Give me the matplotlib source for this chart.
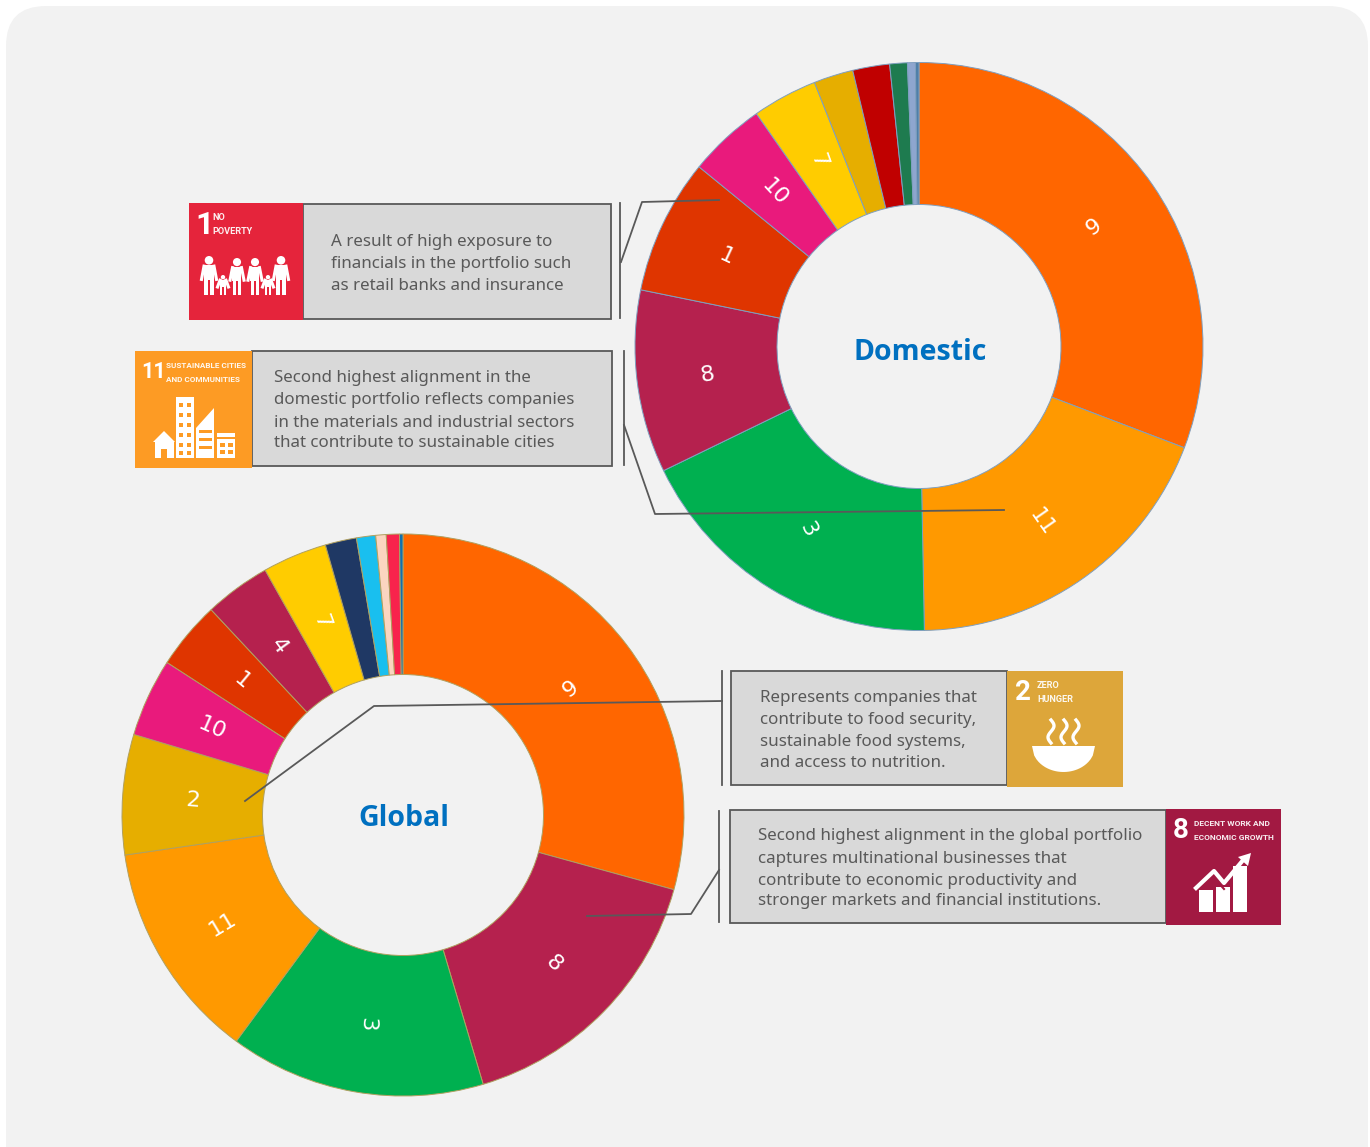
import matplotlib
matplotlib.use('Agg')
import matplotlib.pyplot as plt
from matplotlib.patches import FancyBboxPatch, Rectangle, Circle, Polygon
import numpy as np

W, H = 1370, 1147

# share of each portfolio per SDG, clockwise from the top (percent)
dom_labels = ['9', '11', '3', '8', '1', '10', '7', '', '', '', '', '']
dom_values = [30.8, 18.9, 18.1, 10.4, 7.7, 4.4, 3.7, 2.25, 2.1, 1.0, 0.45, 0.2]
dom_colors = ['#FF6600', '#FF9900', '#00B050', '#B5214E', '#DF3500', '#E91A7C',
              '#FFCC00', '#E6AE00', '#C00000', '#1E7B4F', '#8EA6CF', '#4F7FA8']

glo_labels = ['9', '8', '3', '11', '2', '10', '1', '4', '7', '', '', '', '', '']
glo_values = [29.25, 16.1, 14.7, 12.6, 6.9, 4.5, 3.9, 3.8, 3.7, 1.8, 1.1, 0.6, 0.75, 0.2]
glo_colors = ['#FF6600', '#B5214E', '#00B050', '#FF9900', '#E6AE00', '#E91A7C',
              '#DF3500', '#B5214E', '#FFCC00', '#1F3864', '#19BFEF', '#FBD5C0',
              '#F8234C', '#0F70B0']

GREY = '#595959'
BG = '#F2F2F2'

plt.rcParams['font.family'] = ['Noto Sans', 'DejaVu Sans']

fig = plt.figure(figsize=(W / 100, H / 100), dpi=100)
ax = fig.add_axes([0, 0, 1, 1])


def Y(py):
    return H - py


def donut(values, colors, labels, cx, cy, R, edge, rots):
    wedges, _ = ax.pie(values, colors=colors, startangle=90, counterclock=False,
                       center=(cx, Y(cy)), radius=R,
                       wedgeprops=dict(width=R / 2, edgecolor=edge, linewidth=0.7))
    for w, lab, rot in zip(wedges, labels, rots):
        if lab == '':
            continue
        a = np.radians((w.theta1 + w.theta2) / 2)
        ax.text(cx + 0.75 * R * np.cos(a), Y(cy + 1.5) + 0.75 * R * np.sin(a), lab,
                color='white', fontsize=16, family='DejaVu Sans', rotation=rot,
                rotation_mode='anchor', ha='center', va='center')


def callout(x0, x1, y0, y1, lines, tx, ys, bx, b0, b1, leader):
    ax.add_patch(Rectangle((x0, Y(y1)), x1 - x0, y1 - y0, fc='#D9D9D9', ec=GREY, lw=1.3))
    for s, yy in zip(lines, ys):
        ax.text(tx, Y(yy + 1), s, color=GREY, fontsize=12.2, ha='left', va='center')
    ax.plot([bx, bx], [Y(b0), Y(b1)], color=GREY, lw=1.3)
    ax.plot([p[0] for p in leader], [Y(p[1]) for p in leader], color=GREY, lw=1.3)


def tile(x0, x1, y0, y1, color, num, title, nx, ny, tx, tys, nsize, tsize):
    ax.add_patch(Rectangle((x0, Y(y1)), x1 - x0, y1 - y0, fc=color, ec='none', zorder=3))
    ax.text(nx, Y(ny), num, color='white', fontsize=nsize, fontweight='bold',
            family='Roboto', ha='left', va='center', zorder=4)
    for s, yy in zip(title, tys):
        ax.text(tx, Y(yy), s, color='white', fontsize=tsize, fontweight='bold',
                family='Roboto', ha='left', va='center', alpha=0.92, zorder=4)


def box(x0, y0, x1, y1, c='white'):
    ax.add_patch(Rectangle((x0, Y(y1)), x1 - x0, y1 - y0, fc=c, ec='none', zorder=5))


def person(cx, top, h, w):
    ax.add_patch(Circle((cx, Y(top + h * 0.11)), h * 0.11, fc='white', ec='none', zorder=5))
    box(cx - w / 2, top + h * 0.24, cx + w / 2, top + h * 0.62)
    box(cx - w / 2 + 0.3, top + h * 0.62, cx - 0.6, top + h)
    box(cx + 0.6, top + h * 0.62, cx + w / 2 - 0.3, top + h)
    # arms
    ax.plot([cx - w / 2, cx - w / 2 - 2.5], [Y(top + h * 0.26), Y(top + h * 0.6)],
            color='white', lw=2.2, zorder=5)
    ax.plot([cx + w / 2, cx + w / 2 + 2.5], [Y(top + h * 0.26), Y(top + h * 0.6)],
            color='white', lw=2.2, zorder=5)


# page background
ax.add_patch(FancyBboxPatch((6, -60), 1362, H - 6 + 60, boxstyle='round,pad=0,rounding_size=40',
                            fc=BG, ec='none', zorder=0))

dom_rots = [35, -55, -62, 10, -25, -47, -70, 0, 0, 0, 0, 0]
glo_rots = [37, -44, -92, 31, -4, -24, -40, -54, -70, 0, 0, 0, 0, 0]
donut(dom_values, dom_colors, dom_labels, 919, 346.5, 284, '#7F9FBF', dom_rots)
donut(glo_values, glo_colors, glo_labels, 403, 815, 281, '#B0A060', glo_rots)

ax.text(920, Y(352), 'Domestic', color='#0070C0', fontsize=20.5, fontweight='bold',
        family='Open Sans', ha='center', va='center')
ax.text(404, Y(818), 'Global', color='#0070C0', fontsize=20.5, fontweight='bold',
        family='Open Sans', ha='center', va='center')

# callouts
callout(303, 611, 204, 319,
        ['A result of high exposure to', 'financials in the portfolio such',
         'as retail banks and insurance'],
        331, [241, 263, 285], 620.5, 203, 318, [(621, 262), (642, 202), (719, 200)])
callout(252, 612, 351, 466,
        ['Second highest alignment in the', 'domestic portfolio reflects companies',
         'in the materials and industrial sectors', 'that contribute to sustainable cities'],
        274, [377, 399, 422, 442], 624, 351, 465, [(624, 425), (655, 514), (1004, 510)])
callout(731, 1007, 671, 785,
        ['Represents companies that', 'contribute to food security,',
         'sustainable food systems,', 'and access to nutrition.'],
        760, [697, 719, 741, 762], 722, 671, 785, [(722, 701), (374, 706), (245, 801)])
callout(730, 1166, 810, 923,
        ['Second highest alignment in the global portfolio', 'captures multinational businesses that',
         'contribute to economic productivity and', 'stronger markets and financial institutions.'],
        758, [835, 858, 880, 900], 719, 811, 922, [(719, 870), (691, 914), (587, 916)])

# SDG tiles
tile(189, 303, 203, 320, '#E5243B', '1', ['NO', 'POVERTY'], 195, 225, 212, [218, 232], 23, 6.6)
for cx, top, h, w in [(209, 256, 39, 10), (237, 258, 37, 9), (255, 258, 37, 9), (281, 256, 39, 10)]:
    person(cx, top, h, w)
for cx in [223, 268]:
    person(cx, 275, 20, 6)

tile(135, 252, 351, 468, '#FD9B24', '11', ['SUSTAINABLE CITIES', 'AND COMMUNITIES'], 141, 372, 166,
     [366, 380], 15.5, 5.9)
ax.add_patch(Polygon([(153, Y(442)), (164, Y(431)), (175, Y(442))], fc='white', ec='none', zorder=5))
box(155, 442, 174, 458)
box(161, 449, 167, 458, '#FD9B24')
box(176, 397, 194, 458)
for yy in [403, 413, 423, 433, 443, 451]:
    for xx in [179, 187]:
        box(xx, yy, xx + 4, yy + 4, '#FD9B24')
ax.add_patch(Polygon([(196, Y(458)), (196, Y(428)), (214, Y(408)), (214, Y(458))], fc='white',
                     ec='none', zorder=5))
for yy in [430, 438, 446]:
    box(199, yy, 212, yy + 3, '#FD9B24')
box(217, 433, 235, 458)
box(217, 437, 235, 439, '#FD9B24')
box(220, 443, 225, 447, '#FD9B24')
box(228, 443, 233, 447, '#FD9B24')
box(220, 450, 225, 454, '#FD9B24')
box(228, 450, 233, 454, '#FD9B24')

tile(1007, 1123, 671, 787, '#DDA63A', '2', ['ZERO', 'HUNGER'], 1015, 693, 1037, [686, 700], 20, 6.6)
bt = np.linspace(0, 1, 30)
bowl_x = 1032 + 63 * bt
bowl_y = 746 + 26 * np.sqrt(np.clip(1 - (2 * bt - 1) ** 2, 0, 1))
ax.add_patch(Polygon(np.c_[bowl_x, Y(bowl_y)], fc='white', ec='none', zorder=5))
st = np.linspace(0, 1, 30)
for sx in [1051, 1064, 1076]:
    ax.plot(sx + 3 * np.sin(st * 2 * np.pi), Y(720 + 23 * st), color='white', lw=2.4, zorder=5)

tile(1166, 1281, 809, 925, '#A21942', '8', ['DECENT WORK AND', 'ECONOMIC GROWTH'], 1173, 830, 1194,
     [824, 838], 20, 6.0)
for x0, top in [(1199, 890), (1216, 887), (1233, 866)]:
    box(x0, top, x0 + 14, 912)
ax.plot([1196, 1214, 1224, 1244], [Y(888), Y(871), Y(883), Y(859)], color='white', lw=3, zorder=6)
ax.plot([1214, 1224], [Y(878), Y(889)], color='#A21942', lw=1.5, zorder=5.5)
ax.add_patch(Polygon([(1251, Y(853)), (1238, Y(857)), (1248, Y(866))], fc='white', ec='none', zorder=6))

ax.set_xlim(0, W)
ax.set_ylim(0, H)
ax.set_aspect('auto')
ax.axis('off')

fig.savefig('out.png', dpi=100, facecolor='white')
